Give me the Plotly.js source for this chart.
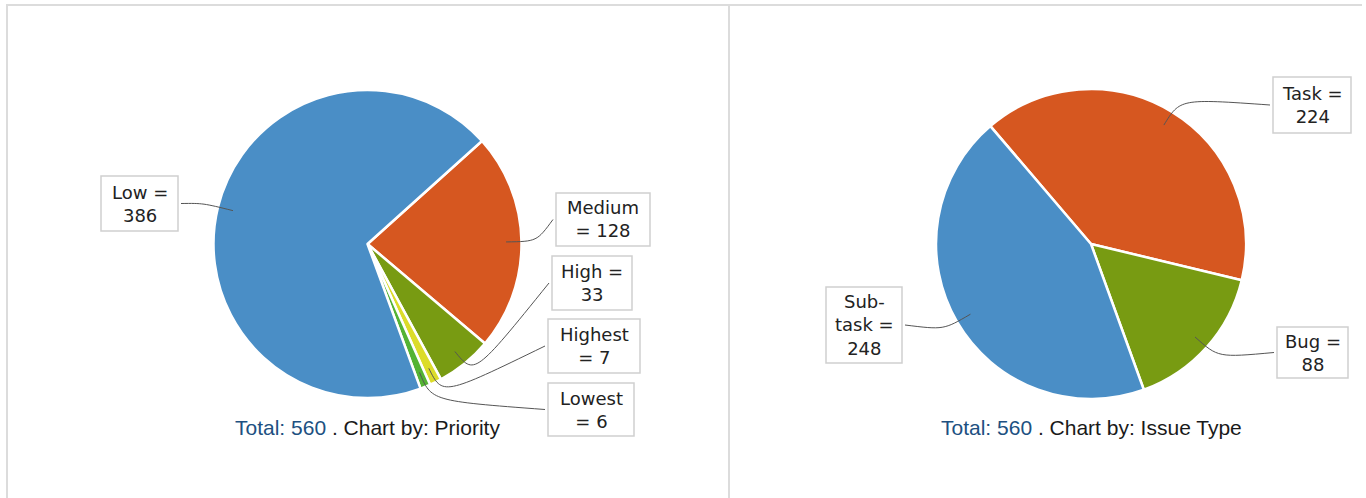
<!DOCTYPE html>
<html>
<head>
<meta charset="utf-8">
<script src="https://cdn.plot.ly/plotly-3.0.1.min.js"></script>
<style>
  html, body { margin: 0; padding: 0; background: #ffffff; }
  #chart { width: 1366px; height: 498px; }
</style>
</head>
<body>
<div id="chart"></div>
<script>
// ---- data ----
const priorityLabels = ['Medium', 'High', 'Highest', 'Lowest', 'Low'];
const priorityValues = [128, 33, 7, 6, 386];
const priorityColors = ['#d65720', '#789b12', '#dcdc2a', '#54b334', '#4a8ec6'];

const typeLabels = ['Task', 'Bug', 'Sub-task'];
const typeValues = [224, 88, 248];
const typeColors = ['#d65720', '#789b12', '#4a8ec6'];

const chartByNames = ['Priority', 'Issue Type'];

// ---- layout helpers (pixels) ----
const W = 1366, H = 498;
const px = x => x / W;
const py = y => 1 - y / H;

// pie geometry (pixels): center and radius
const pies = [
  { cx: 367.5, cy: 244, r: 154, rotation: 48,
    labels: priorityLabels, values: priorityValues, colors: priorityColors,
    boxes: {
      'Low':     [101, 178, 176, 231],
      'Medium':  [556, 650, 193, 246],
      'High':    [552, 632, 256, 310],
      'Highest': [548, 640, 319, 373],
      'Lowest':  [548, 634, 383, 436]
    } },
  { cx: 1091, cy: 244, r: 155, rotation: -40.5,
    labels: typeLabels, values: typeValues, colors: typeColors,
    boxes: {
      'Task':     [1273, 1351, 77, 133],
      'Bug':      [1277, 1348, 327, 378],
      'Sub-task': [826, 902, 287, 363]
    } }
];

function labelText(name, v) {
  if (name.indexOf('-') > 0) {
    const parts = name.split('-');
    return parts[0] + '-<br>' + parts[1] + ' =<br>' + v;
  }
  if (name.length <= 4) return name + ' =<br>' + v;
  return name + '<br>= ' + v;
}

const traces = [];
const shapes = [];
const annotations = [];

// frame lines
const frameColor = '#dcdcdc';
shapes.push({ type: 'line', xref: 'paper', yref: 'paper', x0: px(6), x1: px(1362), y0: py(5), y1: py(5), line: { color: frameColor, width: 2 } });
shapes.push({ type: 'line', xref: 'paper', yref: 'paper', x0: px(7), x1: px(7), y0: py(5), y1: py(498), line: { color: frameColor, width: 2 } });
shapes.push({ type: 'line', xref: 'paper', yref: 'paper', x0: px(729), x1: px(729), y0: py(5), y1: py(498), line: { color: frameColor, width: 2 } });

pies.forEach((p, pi) => {
  traces.push({
    type: 'pie',
    labels: p.labels,
    values: p.values,
    sort: false,
    direction: 'clockwise',
    rotation: p.rotation,
    textinfo: 'none',
    hoverinfo: 'label+value',
    showlegend: false,
    marker: { colors: p.colors, line: { color: '#ffffff', width: 2.5 } },
    domain: { x: [px(p.cx - p.r), px(p.cx + p.r)], y: [py(p.cy + p.r), py(p.cy - p.r)] }
  });

  const total = p.values.reduce((a, b) => a + b, 0);
  let cum = 0;
  p.labels.forEach((name, i) => {
    const v = p.values[i];
    const midDeg = p.rotation + (cum + v / 2) / total * 360;
    cum += v;
    const a = midDeg * Math.PI / 180;
    const sx = Math.sin(a), sy = -Math.cos(a);
    const ax = p.cx + sx * p.r * 0.9, ay = p.cy + sy * p.r * 0.9;
    const ex = p.cx + sx * p.r * 1.1, ey = p.cy + sy * p.r * 1.1;
    const b = p.boxes[name];
    const right = (b[0] + b[1]) / 2 > p.cx;
    const tx = right ? b[0] - 3 : b[1] + 3;
    const ty = (b[2] + b[3]) / 2;
    shapes.push({
      type: 'path', xref: 'paper', yref: 'paper',
      path: 'M ' + px(ax) + ',' + py(ay) + ' C ' + px(ex) + ',' + py(ey) + ' ' + px(ex) + ',' + py(ey) + ' ' + px(tx) + ',' + py(ty),
      line: { color: '#555555', width: 1 }
    });
    shapes.push({
      type: 'rect', xref: 'paper', yref: 'paper',
      x0: px(b[0]), x1: px(b[1]), y0: py(b[3]), y1: py(b[2]),
      line: { color: '#d0d0d0', width: 1.5 }, fillcolor: '#ffffff', layer: 'above'
    });
    annotations.push({
      xref: 'paper', yref: 'paper',
      x: px((b[0] + b[1]) / 2), y: py((b[2] + b[3]) / 2),
      xanchor: 'center', yanchor: 'middle', align: 'center',
      showarrow: false,
      text: labelText(name, v),
      font: { family: 'DejaVu Sans', size: 18, color: '#222222' }
    });
  });

  annotations.push({
    xref: 'paper', yref: 'paper',
    x: px(p.cx), y: py(427),
    xanchor: 'center', yanchor: 'middle',
    showarrow: false,
    text: '<span style="color:#205081">Total: ' + total + '</span> . Chart by: ' + chartByNames[pi],
    font: { family: 'Liberation Sans, Arial', size: 21, color: '#1a1a1a' }
  });
});

const layout = {
  width: W, height: H,
  margin: { l: 0, r: 0, t: 0, b: 0 },
  paper_bgcolor: '#ffffff',
  plot_bgcolor: '#ffffff',
  showlegend: false,
  shapes: shapes,
  annotations: annotations
};

Plotly.newPlot('chart', traces, layout, { staticPlot: true, displayModeBar: false });
</script>
</body>
</html>
